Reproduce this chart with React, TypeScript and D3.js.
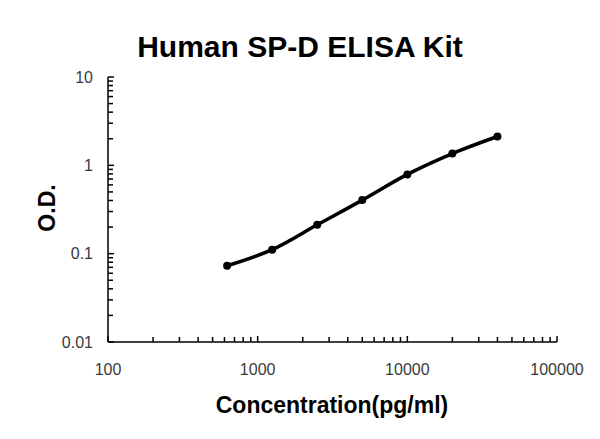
import * as d3 from "d3"

const concentrations = [625, 1250, 2500, 5000, 10000, 20000, 40000]
const odValues = [0.073, 0.111, 0.212, 0.404, 0.79, 1.36, 2.12]
const xTickLabels = ["100", "1000", "10000", "100000"]
const yTickLabels = ["0.01", "0.1", "1", "10"]

const W = 600
const H = 439
const font = "'Liberation Sans', Arial, sans-serif"

export default function App() {
  const x = d3.scaleLog().domain([100, 100000]).range([108, 557])
  const y = d3.scaleLog().domain([0.01, 10]).range([342, 77])

  const minorX: number[] = []
  for (let d = 100; d < 100000; d *= 10) {
    for (let k = 2; k <= 9; k++) minorX.push(d * k)
  }
  const minorY: number[] = []
  for (let d = 0.01; d < 9; d *= 10) {
    for (let k = 2; k <= 9; k++) minorY.push(d * k)
  }

  const pts = concentrations.map((c, i) => [x(c), y(odValues[i])] as [number, number])
  const line = d3.line().curve(d3.curveCatmullRom.alpha(0.5))(pts) ?? ""

  return (
    <svg
      width={W}
      height={H}
      viewBox={`0 0 ${W} ${H}`}
      style={{ position: "absolute", left: 0, top: 0, background: "#fff" }}
    >
      <text
        x={300}
        y={57}
        textAnchor="middle"
        fontFamily={font}
        fontWeight={700}
        fontSize={30}
        fill="#000"
      >
        Human SP-D ELISA Kit
      </text>

      {/* axes */}
      <g stroke="#000" strokeWidth={1.5} fill="none">
        <line x1={x(100)} x2={x(100)} y1={y(10)} y2={y(0.01)} />
        <line x1={x(100)} x2={x(100000)} y1={y(0.01)} y2={y(0.01)} />
        {minorX.map((v) => (
          <line key={`mx${v}`} x1={x(v)} x2={x(v)} y1={y(0.01)} y2={y(0.01) - 5} />
        ))}
        {xTickLabels.map((t) => (
          <line key={`Mx${t}`} x1={x(+t)} x2={x(+t)} y1={y(0.01)} y2={y(0.01) - 6} />
        ))}
        {minorY.map((v) => (
          <line key={`my${v}`} x1={x(100)} x2={x(100) + 5} y1={y(v)} y2={y(v)} />
        ))}
        {yTickLabels.map((t) => (
          <line key={`My${t}`} x1={x(100)} x2={x(100) + 6} y1={y(+t)} y2={y(+t)} />
        ))}
      </g>

      <g fontFamily={font} fontSize={16} fill="#3a3a3a">
        {xTickLabels.map((t) => (
          <text key={`lx${t}`} x={x(+t)} y={375} textAnchor="middle">
            {t}
          </text>
        ))}
        {yTickLabels.map((t) => (
          <text key={`ly${t}`} x={93} y={y(+t)} dy="0.35em" textAnchor="end">
            {t}
          </text>
        ))}
      </g>

      <path d={line} fill="none" stroke="#000" strokeWidth={3.5} strokeLinecap="round" />
      {pts.map(([px, py], i) => (
        <circle key={i} cx={px} cy={py} r={4} fill="#000" />
      ))}

      <text
        x={332}
        y={413}
        textAnchor="middle"
        fontFamily={font}
        fontWeight={700}
        fontSize={23}
        fill="#000"
      >
        Concentration(pg/ml)
      </text>
      <text
        transform={`translate(55,208) rotate(-90)`}
        textAnchor="middle"
        fontFamily={font}
        fontWeight={700}
        fontSize={23}
        fill="#000"
      >
        O.D.
      </text>
    </svg>
  )
}
